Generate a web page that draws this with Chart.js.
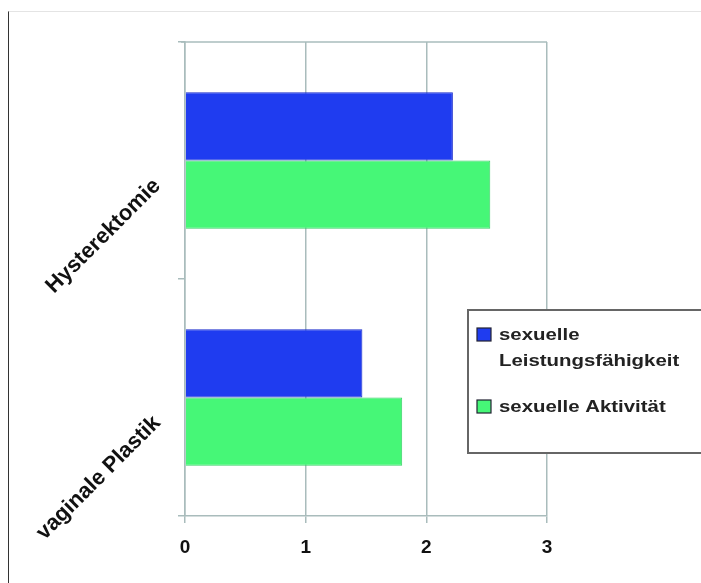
<!DOCTYPE html>
<html>
<head>
<meta charset="utf-8">
<script src="https://cdn.jsdelivr.net/npm/chart.js@4"></script>
<style>
  html, body { margin: 0; padding: 0; background: #fff; }
  #wrap { position: relative; width: 701px; height: 583px; }
  #frame { position: absolute; left: 8px; top: 11px; right: 0; bottom: 0;
           border-left: 1px solid #333; border-top: 1px solid #e4e4e4; pointer-events: none; }
</style>
</head>
<body>
<div id="wrap">
  <canvas id="chart" width="701" height="583"></canvas>
  <div id="frame"></div>
</div>
<script>
const categories = ['Hysterektomie', 'vaginale Plastik'];
const leistung = [2.22, 1.47];
const aktivitaet = [2.53, 1.80];
const seriesNames = [['sexuelle', 'Leistungsfähigkeit'], ['sexuelle Aktivität']];
const xTicks = [0, 1, 2, 3];

const blue = '#1f3cf0';
const green = '#46f777';
const gridColor = '#a9bcbc';
const fontFamily = '"Liberation Sans", Arial, sans-serif';

// frame line on top of the plot and the boxed legend at the right
const boxPlugin = {
  id: 'boxes',
  afterDraw(chart) {
    const { ctx, chartArea } = chart;
    ctx.save();
    ctx.strokeStyle = gridColor;
    ctx.lineWidth = 1.5;
    ctx.beginPath();
    ctx.moveTo(chartArea.left - 4, chartArea.top);
    ctx.lineTo(chartArea.right, chartArea.top);
    ctx.stroke();

    // legend
    const lx = chartArea.right - 79, ly = 310, lw = 240, lh = 143;
    ctx.fillStyle = '#fff';
    ctx.fillRect(lx, ly, lw, lh);
    ctx.strokeStyle = '#666';
    ctx.lineWidth = 2;
    ctx.strokeRect(lx, ly, lw, lh);

    const colors = [blue, green];
    const rowsY = [335, 407];
    ctx.textBaseline = 'middle';
    seriesNames.forEach((lines, i) => {
      ctx.fillStyle = colors[i];
      ctx.fillRect(lx + 9, rowsY[i] - 7, 14, 13);
      ctx.strokeStyle = '#223';
      ctx.lineWidth = 1.2;
      ctx.strokeRect(lx + 9, rowsY[i] - 7, 14, 13);
      ctx.fillStyle = '#222';
      lines.forEach((t, j) => {
        // the original lettering is a bit wider than Arial
        ctx.save();
        ctx.translate(lx + 31, rowsY[i] + j * 26);
        ctx.scale(1.2, 1);
        ctx.font = 'bold 17px ' + fontFamily;
        ctx.fillText(t, 0, 0);
        ctx.restore();
      });
    });
    ctx.restore();
  }
};

new Chart(document.getElementById('chart'), {
  type: 'bar',
  data: {
    labels: categories,
    datasets: [
      {
        label: seriesNames[0].join(' '),
        data: leistung,
        backgroundColor: blue,
        borderColor: '#1a2ccc',
        borderWidth: 1,
        categoryPercentage: 0.575,
        barPercentage: 1.0
      },
      {
        label: seriesNames[1].join(' '),
        data: aktivitaet,
        backgroundColor: green,
        borderColor: '#3ad068',
        borderWidth: 1,
        categoryPercentage: 0.575,
        barPercentage: 1.0
      }
    ]
  },
  options: {
    indexAxis: 'y',
    responsive: false,
    animation: false,
    layout: { padding: { top: 42, right: 154, left: 0, bottom: 0 } },
    plugins: { legend: { display: false }, tooltip: { enabled: false } },
    scales: {
      x: {
        min: 0,
        max: 3,
        afterBuildTicks(scale) { scale.ticks = xTicks.map(v => ({ value: v })); },
        afterFit(scale) { scale.height = 67; },
        grid: { color: gridColor, lineWidth: 1.5, tickLength: 7 },
        border: { color: gridColor, width: 1.5 },
        ticks: {
          color: '#111',
          padding: 13,
          font: { family: fontFamily, size: 19, weight: 'bold' }
        }
      },
      y: {
        afterFit(scale) { scale.width = 185; },
        grid: { drawOnChartArea: false, color: gridColor, lineWidth: 1.5, tickLength: 7 },
        border: { color: gridColor, width: 1.5 },
        ticks: {
          color: '#111',
          padding: 21,
          labelOffset: 22,
          minRotation: 45,
          maxRotation: 45,
          font: { family: fontFamily, size: 22, weight: 'bold' }
        }
      }
    }
  },
  plugins: [boxPlugin]
});
</script>
</body>
</html>
